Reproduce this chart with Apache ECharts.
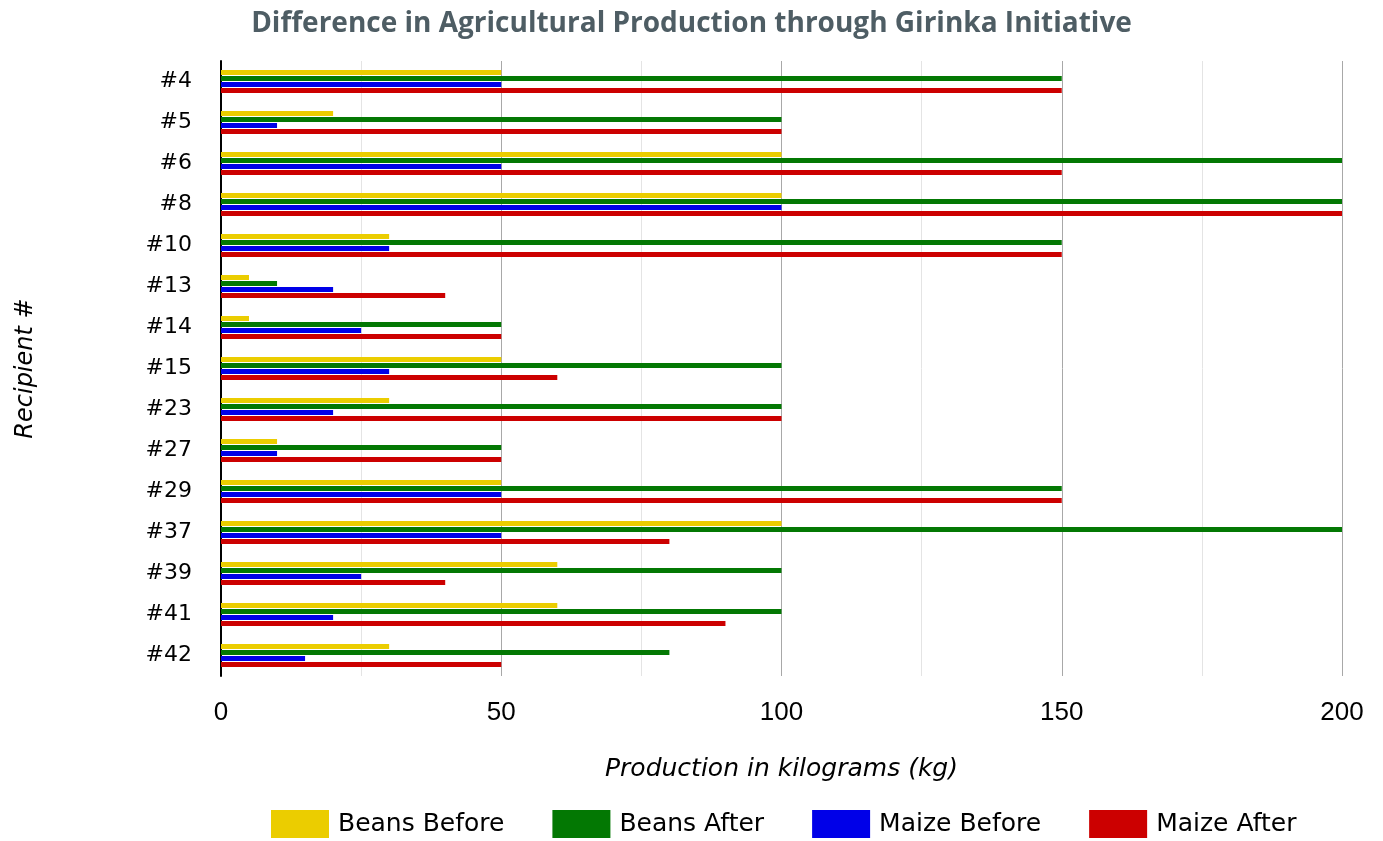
<!DOCTYPE html>
<html><head><meta charset="utf-8">
<script src="https://cdn.jsdelivr.net/npm/echarts@6/dist/echarts.min.js"></script>
<style>html,body{margin:0;padding:0;background:#fff}#c{width:1383px;height:841px}</style>
</head><body><div id="c"></div>
<script>
const categories = ['#4','#5','#6','#8','#10','#13','#14','#15','#23','#27','#29','#37','#39','#41','#42'];
const beansBefore = [50,20,100,100,30,5,5,50,30,10,50,100,60,60,30];
const beansAfter  = [150,100,200,200,150,10,50,100,100,50,150,200,100,100,80];
const maizeBefore = [50,10,50,100,30,20,25,30,20,10,50,50,25,20,15];
const maizeAfter  = [150,100,150,200,150,40,50,60,100,50,150,80,40,90,50];
const seriesNames = ['Beans Before','Beans After','Maize Before','Maize After'];
const colors = ['#ebcd00','#037803','#0000e8','#cc0000'];

const chart = echarts.init(document.getElementById('c'), null, {renderer:'canvas'});
const data = [beansBefore, beansAfter, maizeBefore, maizeAfter];
chart.setOption({
  animation:false,
  title:{text:'Difference in Agricultural Production through Girinka Initiative', left:'center', top:5,
    textStyle:{fontFamily:'Open Sans', fontWeight:'bold', fontSize:28, color:'#4e5d64'}},
  legend:{bottom:3, left:271, padding:0, itemWidth:58, itemHeight:28, itemGap:48, icon:'rect',
    textStyle:{fontFamily:'DejaVu Sans', fontSize:25, color:'#000', padding:[0,0,0,4]}, data:seriesNames},
  grid:{left:221, right:41, top:61, bottom:165},
  xAxis:{type:'value', min:0, max:200, interval:50,
    name:'Production in kilograms (kg)', nameLocation:'middle', nameGap:81,
    nameTextStyle:{fontFamily:'DejaVu Sans', fontStyle:'italic', fontSize:25, color:'#000'},
    axisLine:{show:false}, axisTick:{show:false},
    axisLabel:{fontFamily:'Liberation Sans', fontSize:26, color:'#000', margin:24},
    splitLine:{show:true, lineStyle:{color:'#a8a8a8', width:1}},
    minorTick:{show:false, splitNumber:2},
    minorSplitLine:{show:true, lineStyle:{color:'#e4e4e4', width:1}}},
  yAxis:{type:'category', data:categories, inverse:true,
    name:'Recipient #', nameLocation:'middle', nameGap:183, nameRotate:90,
    nameTextStyle:{fontFamily:'DejaVu Sans', fontStyle:'italic', fontSize:24, color:'#000'},
    axisLine:{show:true, lineStyle:{color:'#000', width:2}}, axisTick:{show:false},
    axisLabel:{fontFamily:'DejaVu Sans', fontSize:22, color:'#000', margin:29},
    splitLine:{show:false}},
  series: seriesNames.map((n,i)=>({name:n, type:'bar', data:data[i], barWidth:5, barGap:'20%',
    itemStyle:{color:colors[i]}}))
});
</script></body></html>
